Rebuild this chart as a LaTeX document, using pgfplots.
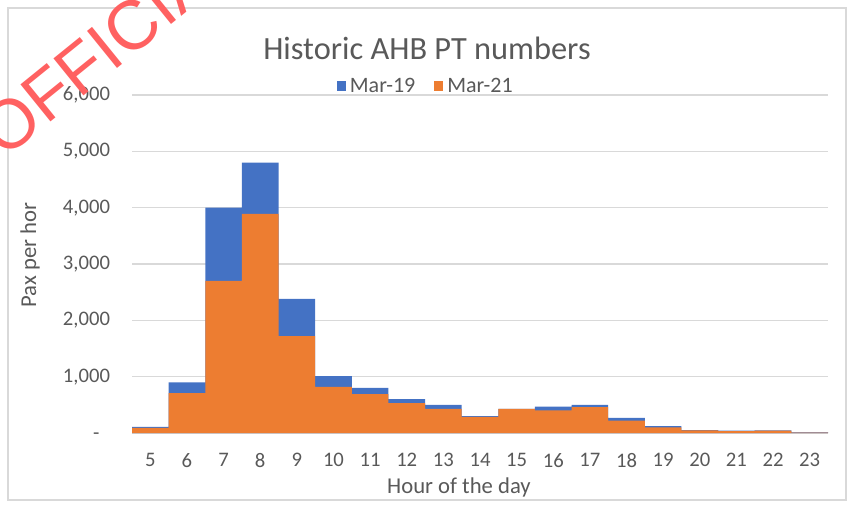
\documentclass[border=0pt]{standalone}
\usepackage{pgfplots}
\pgfplotsset{compat=1.18}
\usepackage{fontspec}
\setmainfont{Carlito}
\newfontfamily\wmfont{Liberation Sans}

\definecolor{c19}{HTML}{4472C4}
\definecolor{c21}{HTML}{ED7D31}
\definecolor{txt}{HTML}{595959}
\definecolor{grd}{HTML}{D9D9D9}

% hourly public transport passengers
\pgfplotstableread{
hour mar19 mar21
5    110   90
6    900   710
7    4000  2700
8    4800  3890
9    2380  1720
10   1010  820
11   800   690
12   600   530
13   500   430
14   300   285
15   430   430
16   470   400
17   500   460
18   270   220
19   120   100
20   50    45
21   40    35
22   45    40
23   10    5
}\pax

\begin{document}
\begin{tikzpicture}[x=0.75pt,y=0.75pt]
\path[use as bounding box] (0,0) rectangle (852,507);
\draw[grd, line width=0.8pt] (8,7) rectangle (846,499);

\begin{axis}[
  at={(99pt,55.5pt)}, anchor=south west,
  scale only axis, width=522pt, height=253.5pt,
  ybar, bar width=1,
  xmin=4.5, xmax=23.5, ymin=0, ymax=6000,
  xtick={5,6,...,23},
  xticklabels={5,6,7,8,9,10,11,12,13,14,15,16,17,18,19,20,21,22,23},
  ytick={0,1000,2000,3000,4000,5000,6000},
  yticklabels={{-\phantom{0}},{1,000},{2,000},{3,000},{4,000},{5,000},{6,000}},
  major tick length=0pt,
  axis line style={draw=none},
  ymajorgrids, grid style={grd, line width=0.9pt},
  tick label style={font=\fontsize{15.5}{18}\selectfont, text=txt},
  yticklabel style={xshift=-13pt},
  xticklabel style={yshift=-11.5pt},
  legend style={at={(0.4224,1.027)}, anchor=center, draw=none, fill=none,
    font=\fontsize{16.5}{19}\selectfont, text=txt,
    legend columns=2,
    /tikz/every odd column/.append style={column sep=1pt},
    /tikz/every even column/.append style={column sep=12pt}},
  sq/.style={legend image code/.code={\fill[##1,draw=none] (0pt,-3.5pt) rectangle (7pt,3.5pt);}},
]
\addplot[fill=c19, draw=none, bar shift=0pt, sq] table[x=hour, y=mar19] {\pax};
\addlegendentry{Mar-19}
\addplot[fill=c21, draw=none, bar shift=0pt, sq] table[x=hour, y=mar21] {\pax};
\addlegendentry{Mar-21}
\end{axis}

\node[text=txt, font=\fontsize{24.3}{28}\selectfont] at (427,459) {Historic AHB PT numbers};
\node[text=txt, font=\fontsize{17}{20}\selectfont] at (459,20) {Hour of the day};
\node[text=txt, font=\fontsize{17}{20}\selectfont, rotate=90] at (30,252) {Pax per hor};

\node[text=red!62, font=\wmfont\fontsize{52}{58}\selectfont, rotate=39] at (111,464) {OFFICIAL};
\end{tikzpicture}
\end{document}
